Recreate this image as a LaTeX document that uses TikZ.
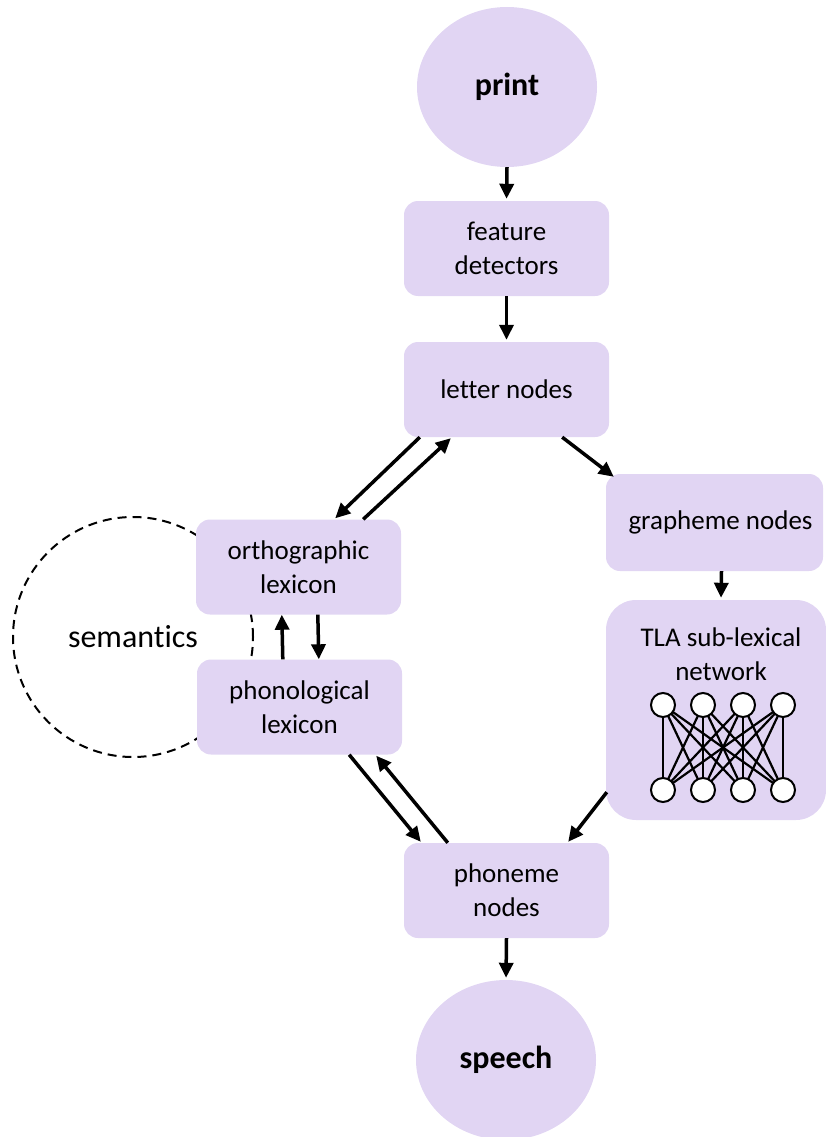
\documentclass[tikz,border=0pt]{standalone}
\usepackage{fontspec}
\setmainfont{Carlito}[Ligatures=NoCommon]
\usetikzlibrary{shapes.geometric,arrows.meta,calc}
\definecolor{lav}{RGB}{225,213,243}
\begin{document}
\begin{tikzpicture}[x=1pt,y=-1pt,
  box/.style={rectangle, rounded corners=14pt, fill=lav, minimum width=205pt,
    minimum height=95pt, inner sep=0pt, align=center,
    font=\fontsize{27}{34}\selectfont},
  terminal/.style={ellipse, fill=lav, minimum width=180pt, minimum height=160pt,
    inner sep=0pt, font=\fontsize{32}{38}\selectfont\bfseries},
  flow/.style={line width=3.5pt, -{Triangle[length=15pt,width=14pt]}},
  unit/.style={circle, draw, line width=2pt, fill=white, minimum size=24pt, inner sep=0pt},
  link/.style={line width=2.2pt},
  plain/.style={align=center, inner sep=0pt, font=\fontsize{27}{34}\selectfont},
]
\useasboundingbox (0,0) rectangle (826,1137);
\clip (0,0) rectangle (826,1137);

% semantics sits behind the two lexicons
\node[circle, draw, dash pattern=on 9pt off 6pt, line width=2pt, minimum size=240pt,
  inner sep=0pt, font=\fontsize{32}{38}\selectfont] (sem) at (133,637) {semantics};

% input / output
\node[terminal] (print) at (507,87) {print};
\node[terminal] (speech) at (506,1060) {speech};

% processing stages
\node[box] (feature) at (506.5,248.5) {feature\\detectors};
\node[box] (letter) at (506.5,389.5) {letter nodes};
\node[box] (ortho) at (298.5,567) {orthographic\\lexicon};
\node[box] (phono) at (299.5,707) {phonological\\lexicon};
\node[box, minimum width=217pt, minimum height=97pt] (graph) at (714.5,522.5) {\hspace*{12pt}grapheme nodes};
\node[box, rounded corners=30pt, minimum width=220pt, minimum height=220pt] (tla) at (716,710) {};
\node[plain] (tlalabel) at (721,654) {TLA sub-lexical\\network};
\node[box] (phoneme) at (506.5,890.5) {phoneme\\nodes};

% two-layer sub-lexical network
\foreach \i/\x in {1/663,2/703,3/743,4/783}{
  \coordinate (ta\i) at (\x,705);
  \coordinate (tb\i) at (\x,790);
}
\foreach \i in {1,...,4}{
  \foreach \j in {1,...,4}{
    \draw[link] (ta\i) -- (tb\j);
  }
}
\foreach \i in {1,...,4}{
  \node[unit] (up\i) at (ta\i) {};
  \node[unit] (lo\i) at (tb\i) {};
}

% connections
\draw[flow, shorten >=2pt] (print.south) -- (feature.north);
\draw[flow, shorten >=2pt] (feature.south) -- (letter.north);
\draw[flow] ($(letter.south west)+(16,0)$) -- ($(ortho.north east)+(-66,-1)$);
\draw[flow] ($(ortho.north east)+(-38,0)$) -- ($(letter.south west)+(47,1)$);
\draw[flow] ($(letter.south east)+(-47,0)$) -- ($(graph.north west)+(8,3)$);
\draw[flow] ($(graph.south)+(7,0)$) -- ($(tla.north)+(5,-2)$);
\draw[flow] ($(phono.north west)+(86,0)$) -- ($(ortho.south west)+(86,0)$);
\draw[flow] ($(ortho.south west)+(122,0)$) -- ($(phono.north west)+(122,0)$);
\draw[flow] ($(phono.south east)+(-53,0)$) -- ($(phoneme.north west)+(17,-1)$);
\draw[flow] ($(phoneme.north west)+(44,0)$) -- ($(phono.south east)+(-26,1)$);
\draw[flow] ($(tla.south west)+(1,-28)$) -- ($(phoneme.north east)+(-41,-1)$);
\draw[flow, shorten >=2pt] (phoneme.south) -- (speech.north);
\end{tikzpicture}
\end{document}
